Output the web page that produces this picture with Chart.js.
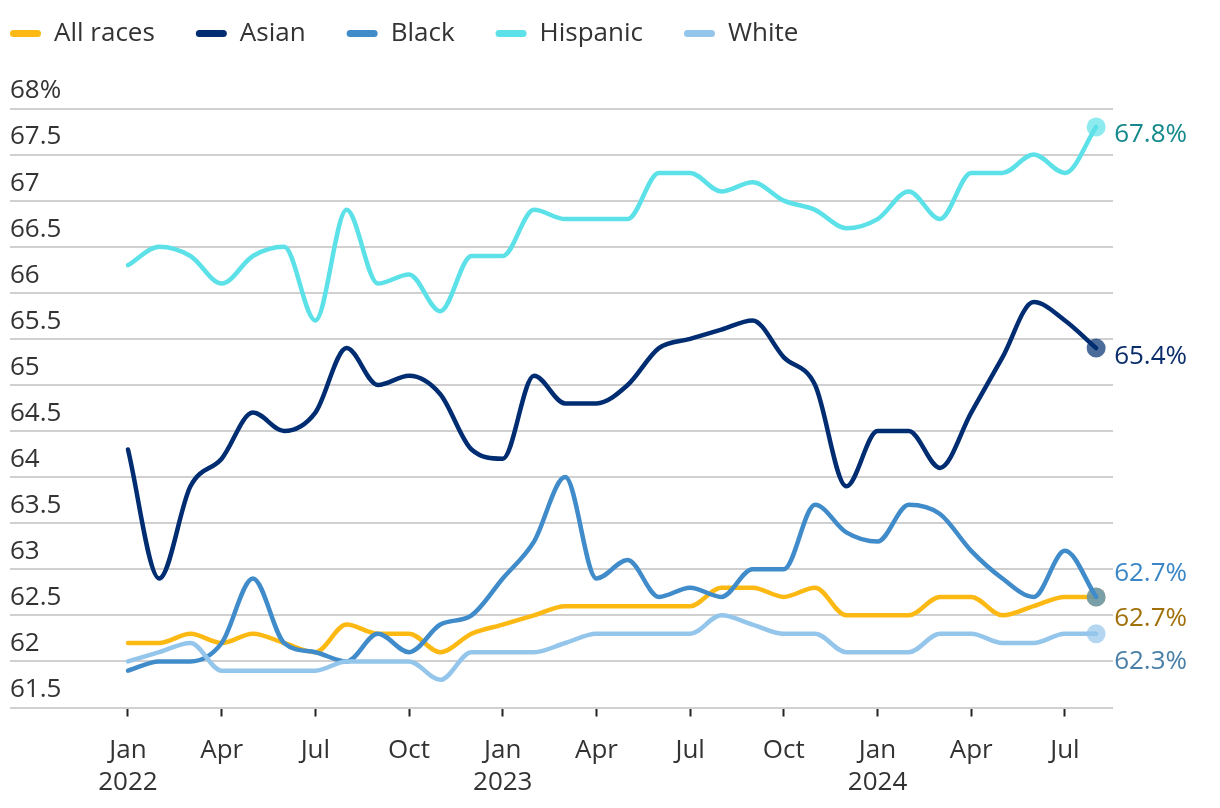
<!DOCTYPE html>
<html>
<head>
<meta charset="utf-8">
<script src="https://cdn.jsdelivr.net/npm/chart.js@4.4.1/dist/chart.umd.min.js"></script>
<style>
  html, body { margin: 0; padding: 0; background: #fff; }
</style>
</head>
<body>
<canvas id="myChart" width="1220" height="808"></canvas>
<script>
// Data (monthly, Jan 2022 - Aug 2024)

const months = [
    'Jan 2022', 'Feb 2022', 'Mar 2022', 'Apr 2022', 'May 2022', 'Jun 2022',
    'Jul 2022', 'Aug 2022', 'Sep 2022', 'Oct 2022', 'Nov 2022', 'Dec 2022',
    'Jan 2023', 'Feb 2023', 'Mar 2023', 'Apr 2023', 'May 2023', 'Jun 2023',
    'Jul 2023', 'Aug 2023', 'Sep 2023', 'Oct 2023', 'Nov 2023', 'Dec 2023',
    'Jan 2024', 'Feb 2024', 'Mar 2024', 'Apr 2024', 'May 2024', 'Jun 2024',
    'Jul 2024', 'Aug 2024'
];

const allRaces = [62.2, 62.2, 62.3, 62.2, 62.3, 62.2, 62.1, 62.4, 62.3, 62.3, 62.1, 62.3,
                  62.4, 62.5, 62.6, 62.6, 62.6, 62.6, 62.6, 62.8, 62.8, 62.7, 62.8, 62.5,
                  62.5, 62.5, 62.7, 62.7, 62.5, 62.6, 62.7, 62.7];
const asian    = [64.3, 62.9, 63.9, 64.2, 64.7, 64.5, 64.7, 65.4, 65.0, 65.1, 64.9, 64.3,
                  64.2, 65.1, 64.8, 64.8, 65.0, 65.4, 65.5, 65.6, 65.7, 65.3, 65.0, 63.9,
                  64.5, 64.5, 64.1, 64.7, 65.3, 65.9, 65.7, 65.4];
const black    = [61.9, 62.0, 62.0, 62.2, 62.9, 62.2, 62.1, 62.0, 62.3, 62.1, 62.4, 62.5,
                  62.9, 63.3, 64.0, 62.9, 63.1, 62.7, 62.8, 62.7, 63.0, 63.0, 63.7, 63.4,
                  63.3, 63.7, 63.6, 63.2, 62.9, 62.7, 63.2, 62.7];
const hispanic = [66.3, 66.5, 66.4, 66.1, 66.4, 66.5, 65.7, 66.9, 66.1, 66.2, 65.8, 66.4,
                  66.4, 66.9, 66.8, 66.8, 66.8, 67.3, 67.3, 67.1, 67.2, 67.0, 66.9, 66.7,
                  66.8, 67.1, 66.8, 67.3, 67.3, 67.5, 67.3, 67.8];
const white    = [62.0, 62.1, 62.2, 61.9, 61.9, 61.9, 61.9, 62.0, 62.0, 62.0, 61.8, 62.1,
                  62.1, 62.1, 62.2, 62.3, 62.3, 62.3, 62.3, 62.5, 62.4, 62.3, 62.3, 62.1,
                  62.1, 62.1, 62.3, 62.3, 62.2, 62.2, 62.3, 62.3];

// x ticks every quarter (index into months)
const xTicks = [0, 3, 6, 9, 12, 15, 18, 21, 24, 27, 30];

function pts(arr) {
    return arr.map((v, i) => ({ x: i, y: v }));
}

function series(label, arr, color, dot, labelColor, labelShift, order) {
    return {
        label: label,
        data: pts(arr),
        borderColor: color,
        backgroundColor: color,
        borderWidth: 4.5,
        borderCapStyle: 'round',
        borderJoinStyle: 'round',
        cubicInterpolationMode: 'monotone',
        tension: 0.4,
        pointRadius: c => c.dataIndex === arr.length - 1 ? 9.5 : 0,
        pointHoverRadius: c => c.dataIndex === arr.length - 1 ? 9.5 : 0,
        pointBackgroundColor: dot,
        pointBorderWidth: 0,
        labelColor: labelColor,
        labelShift: labelShift,
        order: order
    };
}

// Value labels at the end of each line
const endLabels = {
    id: 'endLabels',
    afterDatasetsDraw(chart) {
        const ctx = chart.ctx;
        ctx.save();
        ctx.font = '26px "Open Sans"';
        ctx.textBaseline = 'middle';
        ctx.textAlign = 'left';
        chart.data.datasets.forEach((ds, i) => {
            const els = chart.getDatasetMeta(i).data;
            const p = els[els.length - 1];
            const v = ds.data[ds.data.length - 1].y;
            ctx.fillStyle = ds.labelColor;
            ctx.fillText(v.toFixed(1) + '%', p.x + 18, p.y + ds.labelShift);
        });
        ctx.restore();
    }
};

// Move the legend up to the top-left corner
const legendShift = {
    id: 'legendShift',
    afterLayout(chart) {
        const lg = chart.legend;
        lg.top -= 52;
        lg.bottom -= 52;
        lg.left = 10 - 41;
    }
};

Chart.defaults.font.family = '"Open Sans", sans-serif';
Chart.defaults.font.size = 26;
Chart.defaults.color = '#333';

new Chart(document.getElementById('myChart'), {
    type: 'line',
    data: {
        datasets: [
            series('All races', allRaces, '#fdb913', 'rgba(253,185,19,0.7)', '#a0700a', 22, 5),
            series('Asian', asian, '#002d72', 'rgba(0,45,114,0.7)', '#0a2d6b', 8, 4),
            series('Black', black, '#408bca', 'rgba(64,139,202,0.7)', '#3a86c6', -23, 3),
            series('Hispanic', hispanic, '#5ce1e8', 'rgba(92,225,232,0.7)', '#14898b', 8, 2),
            series('White', white, '#94c5ea', 'rgba(148,197,234,0.7)', '#4a80a8', 28, 1)
        ]
    },
    options: {
        responsive: false,
        animation: false,
        layout: {
            padding: { top: 31.5, left: 10, right: 107, bottom: 0 }
        },
        plugins: {
            legend: {
                position: 'top',
                align: 'start',
                labels: {
                    boxWidth: 31,
                    boxHeight: 7,
                    useBorderRadius: true,
                    borderRadius: 3.5,
                    padding: 41,
                    color: '#333',
                    font: { size: 26 },
                    sort: (a, b) => a.datasetIndex - b.datasetIndex,
                    generateLabels: chart =>
                        Chart.defaults.plugins.legend.labels.generateLabels(chart)
                            .map(l => Object.assign(l, { lineWidth: 0 }))
                }
            },
            tooltip: { enabled: false }
        },
        scales: {
            x: {
                type: 'linear',
                min: -3.778,
                max: 31.54,
                afterBuildTicks: scale => {
                    scale.ticks = xTicks.map(v => ({ value: v }));
                },
                afterFit: scale => {
                    scale.height = 100.5;
                },
                grid: {
                    drawOnChartArea: false,
                    drawTicks: true,
                    tickLength: 9,
                    tickColor: '#222',
                    tickWidth: 2
                },
                border: { display: false },
                ticks: {
                    autoSkip: false,
                    maxRotation: 0,
                    minRotation: 0,
                    padding: 17.5,
                    color: '#333',
                    font: { size: 26, lineHeight: 1.25 },
                    callback: function (val) {
                        const parts = months[val].split(' ');
                        return parts[0] === 'Jan' ? parts : parts[0];
                    }
                }
            },
            y: {
                min: 61.5,
                max: 68,
                grid: {
                    color: '#d0d0d0',
                    lineWidth: 2,
                    drawTicks: false
                },
                border: { display: false },
                ticks: {
                    stepSize: 0.5,
                    mirror: true,
                    padding: 0,
                    labelOffset: -17.5,
                    color: '#333',
                    font: { size: 26 },
                    callback: v => v === 68 ? '68%' : String(v)
                }
            }
        }
    },
    plugins: [endLabels, legendShift]
});
</script>
</body>
</html>
